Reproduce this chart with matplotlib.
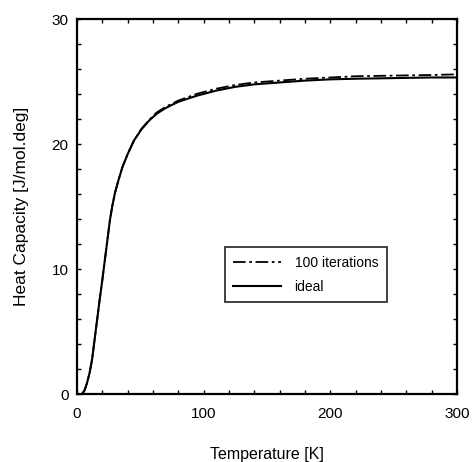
import matplotlib
matplotlib.use("Agg")
import matplotlib.pyplot as plt

plt.rcParams['font.family'] = ['Liberation Sans', 'DejaVu Sans']

# ideal curve
T_ideal = [4, 6, 8, 10, 12, 14, 16, 18, 20, 22, 24, 26, 28, 30, 33, 36, 40, 45,
           51, 57, 63, 70, 80, 95, 110, 125, 140, 160, 180, 200, 220, 250, 280, 300]
C_ideal = [0.0, 0.3, 0.9, 1.7, 2.8, 4.4, 6.0, 7.6, 9.1, 10.7, 12.3, 13.9, 15.1,
           16.1, 17.2, 18.2, 19.2, 20.3, 21.2, 21.9, 22.45, 22.9, 23.4, 23.9,
           24.3, 24.6, 24.8, 24.95, 25.1, 25.2, 25.25, 25.3, 25.35, 25.35]
# 100 iterations curve
T_iter = [4, 6, 8, 10, 12, 14, 16, 18, 20, 22, 24, 26, 28, 30, 33, 36, 40, 45,
          51, 57, 63, 70, 80, 95, 110, 125, 140, 160, 180, 200, 220, 250, 280, 300]
C_iter = [0.0, 0.3, 0.9, 1.7, 2.8, 4.4, 6.0, 7.6, 9.1, 10.7, 12.3, 13.9, 15.1,
          16.1, 17.2, 18.2, 19.2, 20.3, 21.25, 21.95, 22.55, 23.0, 23.5, 24.05,
          24.45, 24.75, 24.95, 25.1, 25.25, 25.35, 25.45, 25.5, 25.55, 25.6]

x_ticks = [0, 100, 200, 300]
y_ticks = [0, 10, 20, 30]

fig = plt.figure(figsize=(4.72, 4.62), dpi=100)
ax = fig.add_axes([0.163, 0.147, 0.805, 0.811])

ax.plot(T_iter, C_iter, color='black', lw=1.3, linestyle=(0, (7, 2, 1.5, 2)),
        label='100 iterations')
ax.plot(T_ideal, C_ideal, color='black', lw=1.5, label='ideal')

ax.set_xlim(0, 300)
ax.set_ylim(0, 30)
ax.set_xticks(x_ticks)
ax.set_yticks(y_ticks)
ax.set_xticks(range(0, 301, 20), minor=True)
ax.set_yticks(range(0, 31, 2), minor=True)
ax.tick_params(which='both', direction='in', top=True, right=True, length=3,
               width=1, labelsize=11)
ax.tick_params(axis='x', which='major', pad=9)
ax.tick_params(axis='y', which='major', pad=6)
for s in ax.spines.values():
    s.set_linewidth(1.6)

ax.set_xlabel('Temperature [K]', fontsize=11.5, labelpad=19)
ax.set_ylabel('Heat Capacity [J/mol.deg]', fontsize=12.5, labelpad=16)

leg = ax.legend(loc='upper left', bbox_to_anchor=(0.39, 0.392), fontsize=10,
                frameon=True, fancybox=False, handlelength=3.4,
                handletextpad=1.0, labelspacing=0.75, borderpad=0.6,
                borderaxespad=0)
leg.get_frame().set_edgecolor('black')
leg.get_frame().set_linewidth(1.3)

fig.savefig('out.png', dpi=100)
